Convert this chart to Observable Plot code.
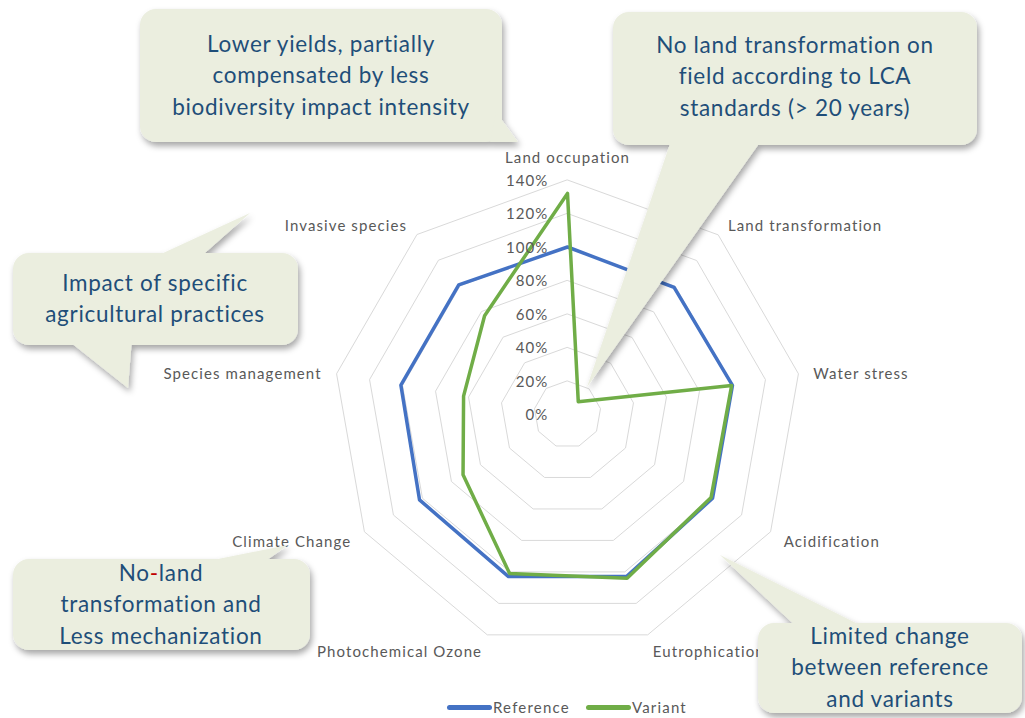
<!DOCTYPE html>
<html><head><meta charset="utf-8">
<script src="https://cdn.jsdelivr.net/npm/d3@7"></script>
<script src="https://cdn.jsdelivr.net/npm/@observablehq/plot@0.6"></script>
<style>
body{margin:0;background:#fff;font-family:Lato,"Open Sans",sans-serif;}
#wrap{position:relative;width:1025px;height:718px;overflow:hidden;background:#fff;}
#legend{position:absolute;left:447px;top:698px;display:flex;align-items:center;font-size:15px;letter-spacing:1.2px;color:#595959;font-family:Lato,sans-serif;line-height:18px;}
#legend .sw{display:inline-block;width:45px;height:5px;border-radius:3px;margin-right:1px;}
#legend .it{display:flex;align-items:center;margin-right:16px;}
#overlay{position:absolute;left:0;top:0;pointer-events:none;}
</style></head>
<body><div id="wrap"><div id="chart"></div><div id="legend"></div><svg id="overlay" width="1025" height="718"></svg></div>
<script>
// ---- data ----
const categories = ["Land occupation","Land transformation","Water stress","Acidification","Eutrophication","Photochemical Ozone","Climate Change","Species management","Invasive species"];
const reference = [100, 99, 100, 100, 103, 103, 102, 101, 101];
const variant   = [132, 10, 99.5, 99, 104, 101, 72, 63, 77];
const ringTicks = [0, 20, 40, 60, 80, 100, 120, 140];
const tickLabels = ["0%","20%","40%","60%","80%","100%","120%","140%"];
const seriesNames = ["Reference","Variant"];
const seriesColors = ["#4472c4","#70ad47"];

// ---- geometry helpers ----
const n = categories.length;
const ang = i => 2 * Math.PI * i / n;
const polar = (v, i) => ({x: v * Math.sin(ang(i)), y: v * Math.cos(ang(i))});

const rings = ringTicks.filter(t => t > 0).flatMap(t => categories.map((c, i) => ({ring: t, ...polar(t, i)})));
const seriesValues = [reference, variant];
const points = seriesNames.flatMap((s, j) => seriesValues[j].map((v, i) => ({series: s, cat: categories[i], value: v, ...polar(v, i)})));
const labelR = 149;
const labels = categories.map((c, i) => ({cat: c, s: Math.sin(ang(i)), ...polar(labelR, i)}));
const ticks = ringTicks.map((t, i) => ({t, label: tickLabels[i]}));

const k = 1.675, cx = 567, cy = 414, R = 170;
const chart = Plot.plot({
  width: 1025, height: 700,
  marginTop: 0, marginBottom: 0, marginLeft: 0, marginRight: 0,
  x: {domain: [-R, R], range: [cx - R * k, cx + R * k], axis: null},
  y: {domain: [-R, R], range: [cy + R * k, cy - R * k], axis: null},
  color: {domain: seriesNames, range: seriesColors},
  style: {fontFamily: "Lato, sans-serif", fontSize: "15px", letterSpacing: "1.1px", color: "#595959", background: "transparent"},
  marks: [
    Plot.line(rings, {x: "x", y: "y", z: "ring", curve: "linear-closed", stroke: "#d9d9d9", strokeWidth: 1}),
    Plot.line(points, {x: "x", y: "y", z: "series", stroke: "series", curve: "linear-closed", strokeWidth: 3.5, strokeLinejoin: "round"}),
    Plot.text(ticks, {x: 0, y: "t", text: "label", textAnchor: "end", dx: -19, dy: 1, fill: "#595959", fontSize: 15}),
    Plot.text(labels.filter(d => d.s > 0.1), {x: "x", y: "y", text: "cat", textAnchor: "start", dy: 3, fill: "#595959", fontSize: 15}),
    Plot.text(labels.filter(d => d.s < -0.1), {x: "x", y: "y", text: "cat", textAnchor: "end", dy: 3, fill: "#595959", fontSize: 15}),
    Plot.text(labels.filter(d => Math.abs(d.s) <= 0.1), {x: "x", y: "y", text: "cat", textAnchor: "middle", dy: -7, fill: "#595959", fontSize: 15})
  ]
});
document.getElementById("chart").appendChild(chart);

// ---- legend ----
const lg = document.getElementById("legend");
seriesNames.forEach((s, j) => {
  const it = document.createElement("span"); it.className = "it";
  const sw = document.createElement("span"); sw.className = "sw"; sw.style.background = seriesColors[j];
  it.appendChild(sw); it.appendChild(document.createTextNode(s)); lg.appendChild(it);
});

// ---- callouts ----
const callouts = [
  {box: [140, 9, 502, 142], tails: [[[496, 112], [490, 142], [518, 142]]], lines: ["Lower yields, partially", "compensated by less", "biodiversity impact intensity"], cx: 321, y0: 46},
  {box: [613, 12, 977, 145], tails: [[[672, 138], [763, 138], [587, 387]]], lines: ["No land transformation on", "field according to LCA", "standards (> 20 years)"], cx: 795, y0: 47},
  {box: [13, 253, 298, 345], tails: [[[148, 260], [197, 260], [250, 213]], [[65, 338], [132, 338], [128, 388]]], lines: ["Impact of specific", "agricultural practices"], cx: 155, y0: 285},
  {box: [13, 559, 310, 650], tails: [[[188, 565], [260, 565], [288, 545]]], lines: ["No-land", "transformation and", "Less mechanization"], cx: 161, y0: 575},
  {box: [758, 623, 1022, 713], tails: [[[800, 630], [870, 630], [720, 555]]], lines: ["Limited change", "between reference", "and variants"], cx: 890, y0: 638}
];
const ov = d3.select("#overlay");
const defs = ov.append("defs");
const f = defs.append("filter").attr("id", "sh").attr("x", "-20%").attr("y", "-20%").attr("width", "140%").attr("height", "150%");
f.append("feDropShadow").attr("dx", 2).attr("dy", 4).attr("stdDeviation", 3).attr("flood-color", "#000").attr("flood-opacity", 0.35);
callouts.forEach(c => {
  const g = ov.append("g").attr("filter", "url(#sh)");
  const [x0, y0, x1, y1] = c.box;
  g.append("rect").attr("x", x0).attr("y", y0).attr("width", x1 - x0).attr("height", y1 - y0).attr("rx", 16).attr("fill", "#ebeedf");
  c.tails.forEach(t => g.append("path").attr("d", "M" + t.map(p => p.join(",")).join("L") + "Z").attr("fill", "#ebeedf"));
  const tx = ov.append("text").attr("text-anchor", "middle").attr("font-family", "Lato, sans-serif").attr("font-size", 22.5).attr("letter-spacing", "0.7px").attr("fill", "#1f4e79");
  c.lines.forEach((l, i) => {
    const t = tx.append("tspan").attr("x", c.cx).attr("y", c.y0 + i * 31.5).attr("dominant-baseline", "middle");
    if (l === "No-land") {
      t.append("tspan").text("No");
      t.append("tspan").attr("fill", "#c00000").text("-");
      t.append("tspan").text("land");
    } else t.text(l);
  });
});
</script>
</body></html>
